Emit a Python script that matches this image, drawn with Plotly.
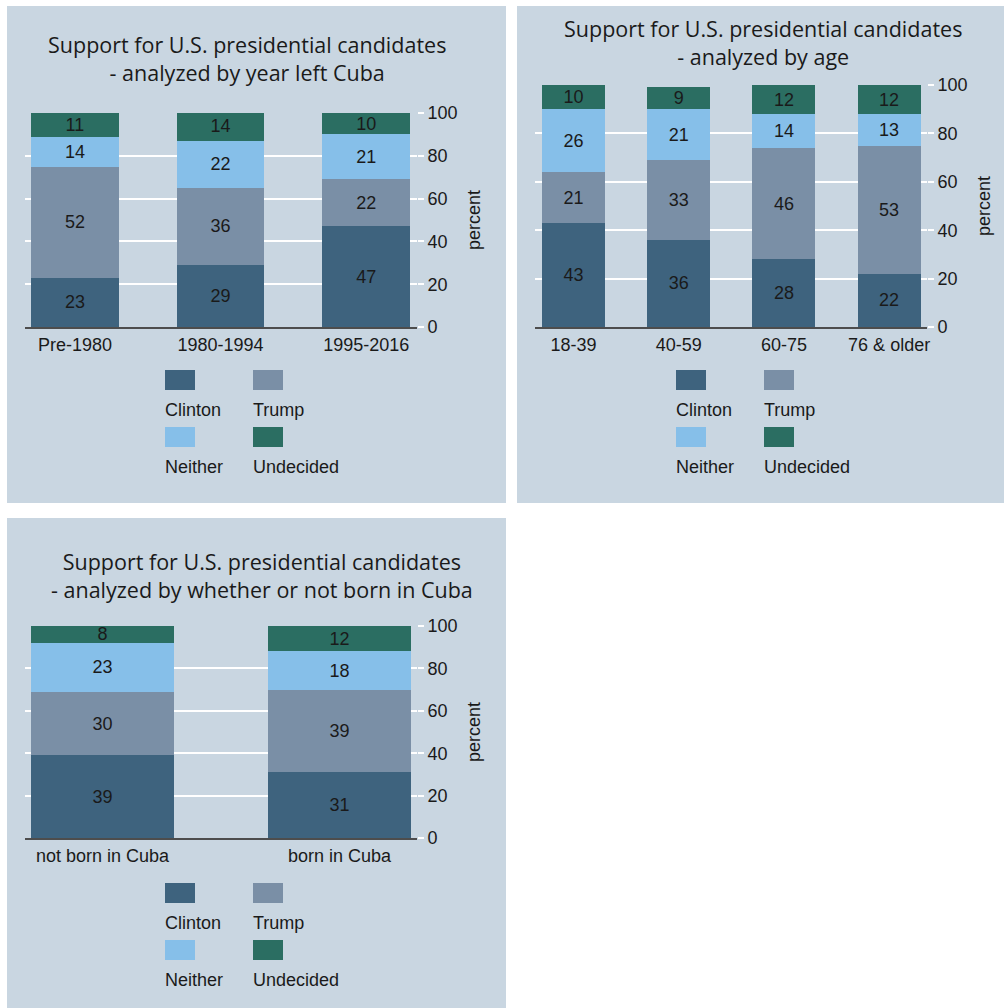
import plotly.graph_objects as go

# ---- data -------------------------------------------------------------
series = ["Clinton", "Trump", "Neither", "Undecided"]
colors = ["#3e637e", "#7a8fa6", "#86bfe9", "#2b6e62"]

year_groups = ["Pre-1980", "1980-1994", "1995-2016"]
year_values = {
    "Clinton": [23, 29, 47],
    "Trump": [52, 36, 22],
    "Neither": [14, 22, 21],
    "Undecided": [11, 14, 10],
}

age_groups = ["18-39", "40-59", "60-75", "76 & older"]
age_values = {
    "Clinton": [43, 36, 28, 22],
    "Trump": [21, 33, 46, 53],
    "Neither": [26, 21, 14, 13],
    "Undecided": [10, 9, 12, 12],
}

birth_groups = ["not born in Cuba", "born in Cuba"]
birth_values = {
    "Clinton": [39, 31],
    "Trump": [30, 39],
    "Neither": [23, 18],
    "Undecided": [8, 12],
}

titles = [
    "Support for U.S. presidential candidates<br>- analyzed by year left Cuba",
    "Support for U.S. presidential candidates<br>- analyzed by age",
    "Support for U.S. presidential candidates<br>- analyzed by whether or not born in Cuba",
]
y_ticks = [0, 20, 40, 60, 80, 100]

# ---- layout helpers ---------------------------------------------------
W, H = 1004, 1008
BG = "#c9d6e1"
TXT = "#1a1a1a"
FONT = "Liberation Sans, Arial, sans-serif"
FS = 18


def fx(px):
    return px / W


def fy(px):
    return 1 - px / H


fig = go.Figure()

panels = [
    # (categories, values, axis suffix, x-range)
    (year_groups, year_values, "", [-0.343, 2.349]),
    (age_groups, age_values, "2", [-0.366, 3.36]),
    (birth_groups, birth_values, "3", [-0.327, 1.327]),
]

for cats, vals, sfx, _ in panels:
    for name, col in zip(series, colors):
        fig.add_trace(go.Bar(
            x=cats, y=vals[name], name=name,
            marker=dict(color=col, line=dict(width=0)),
            text=vals[name], texttemplate="%{text}",
            textposition="inside", insidetextanchor="middle", textangle=0,
            insidetextfont=dict(family=FONT, size=FS, color=TXT),
            xaxis="x" + sfx, yaxis="y" + sfx, showlegend=False,
        ))

# plot-area positions (pixels): x from, x to, y of 0, y of 100
areas = [
    (25, 417, 327, 113),
    (535, 927, 327, 85),
    (25, 417, 838, 626),
]

layout = dict(
    width=W, height=H, margin=dict(l=0, r=0, t=0, b=0, autoexpand=False),
    paper_bgcolor="white", plot_bgcolor="rgba(0,0,0,0)",
    barmode="stack", bargap=0.4,
    uniformtext=dict(minsize=FS, mode="show"),
    font=dict(family=FONT, size=FS, color=TXT),
)

for (cats, vals, sfx, xr), (x0, x1, y0, y1) in zip(panels, areas):
    anchor_y = "y" + sfx
    anchor_x = "x" + sfx
    layout["xaxis" + sfx] = dict(
        domain=[fx(x0), fx(x1)], anchor=anchor_y, type="category",
        range=xr, showgrid=False, showline=True, linecolor="#4d4d4d",
        linewidth=2, ticks="", tickfont=dict(family=FONT, size=FS, color=TXT),
        automargin=False, fixedrange=True,
    )
    layout["yaxis" + sfx] = dict(
        domain=[fy(y0), fy(y1)], anchor=anchor_x, side="right",
        range=[0, 100], tickvals=y_ticks, showgrid=True, gridcolor="white",
        gridwidth=2, zeroline=False, ticks="outside", tickcolor="white",
        ticklen=6, tickwidth=2, tickfont=dict(family=FONT, size=FS, color=TXT),
        title=dict(text="percent", font=dict(family=FONT, size=FS, color=TXT),
                   standoff=10),
        automargin=False, fixedrange=True,
    )

fig.update_layout(**layout)

# panel backgrounds
shapes = []
for (px0, py0, px1, py1) in [(7, 6, 506, 503), (517, 6, 1004, 503), (7, 518, 506, 1008)]:
    shapes.append(dict(type="rect", xref="paper", yref="paper",
                       x0=fx(px0), x1=fx(px1), y0=fy(py1), y1=fy(py0),
                       fillcolor=BG, line=dict(width=0), layer="below"))

annotations = []
# titles (centre x, centre y in pixels)
for text, (cx, cy) in zip(titles, [(247, 58), (763, 43), (262, 575)]):
    annotations.append(dict(
        text=text, x=fx(cx), y=fy(cy), xref="paper", yref="paper",
        xanchor="center", yanchor="middle", showarrow=False, align="center",
        font=dict(family="Open Sans, Noto Sans, sans-serif", size=21.5, color=TXT),
    ))

# legend: swatch above label, two columns, two rows
legend_origins = [(165, 370), (676, 370), (165, 883)]
col_dx = 88
row_dy = 57
for (lx, ly) in legend_origins:
    for i, (name, col) in enumerate(zip(series, colors)):
        sx = lx + (i % 2) * col_dx
        sy = ly + (i // 2) * row_dy
        shapes.append(dict(type="rect", xref="paper", yref="paper",
                           x0=fx(sx), x1=fx(sx + 30), y0=fy(sy + 20), y1=fy(sy),
                           fillcolor=col, line=dict(width=0)))
        annotations.append(dict(
            text=name, x=fx(sx - 2), y=fy(sy + 40), xref="paper", yref="paper",
            xanchor="left", yanchor="middle", showarrow=False,
            font=dict(family=FONT, size=FS, color=TXT),
        ))

fig.update_layout(shapes=shapes, annotations=annotations)

fig.write_html("out.html")
